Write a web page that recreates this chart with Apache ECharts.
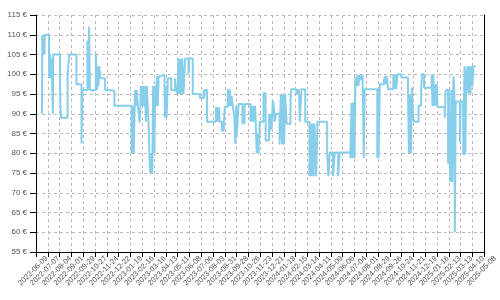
<!DOCTYPE html>
<html><head><meta charset="utf-8">
<script src="https://cdn.jsdelivr.net/npm/echarts@6/dist/echarts.min.js"></script>
<style>html,body{margin:0;padding:0;background:#fff}#c{width:500px;height:300px}</style>
</head><body><div id="c"></div><script>
const startDate = '2022-06-09';
const tickStepDays = 28;
const axisEndDay = 1064;
const priceMin = 55, priceMax = 115, priceStep = 5;
const currency = '€';
// [days since startDate, price in €]
const priceHistory = [
[14,90],[15,110],[17,105],[18,110],[20,105],[21,110],[31,99],[33,105],[35,99],[36,104],
[38,99],[40,90],[41,105],[57,97],[59,89],[75,100],[79,105],[96,97.5],[108,82.5],[110,96],
[122,108.5],[123,96],[126,112],[128,96],[142,105.3],[145,96],[146,102],[148,97],[150,102],[153,99],
[164,96],[171,95.8],[186,92],[227,80],[229,92],[230,80],[231,92],[232,80],[235,96],[238,92],
[239,96],[242,92],[246,87.8],[248,92],[249,97],[251,92],[254,97],[256,92],[258,97],[261,88],
[263,97],[267,88],[269,80],[271,75],[274,80],[276,75],[278,97],[281,80],[283,97],[285,92],
[287,99.5],[289,92],[291,99.5],[297,100],[305,97],[306,89],[309,97],[310,89],[313,99],[321,96],
[330,99],[332,96],[336,95],[338,104],[340,95],[342,104],[345,95],[347,104],[350,95],[354,104],
[362,100],[364,104],[372,95],[389,94],[398,96],[399,94],[400,96],[406,88],[427,91.7],[429,88],
[431,91.7],[432,88],[434,91.7],[436,88],[441,85.5],[443,88],[445,85.5],[448,91.7],[455,96.2],[457,92],
[460,96.2],[462,92],[464,94.5],[467,92],[471,89],[473,82.4],[475,92],[476,84],[479,89],[481,92.5],
[490,87.6],[495,92.5],[509,88],[511,92],[513,88],[515,92],[518,88],[520,92],[524,80],[526,85],
[528,80],[531,88],[540,95.2],[545,83.2],[553,90],[555,85.5],[557,90],[559,86],[562,93.4],[565,91],
[566,88],[570,90],[578,82.2],[581,95],[584,82.2],[586,95],[589,82.2],[591,95],[595,87.5],[604,93.3],
[606,96.2],[618,95],[620,96.2],[622,95],[624,96.2],[626,88],[630,96.2],[639,88],[649,74.2],[652,87.5],
[654,74.2],[656,87.5],[659,74.2],[661,87.5],[665,74.2],[668,88],[691,80.2],[694,74.2],[697,80.2],[705,74.2],
[709,80.2],[717,74.2],[721,80.2],[746,78.8],[749,92.7],[751,78.8],[754,93],[756,78.8],[758,99.2],[761,97],
[763,99.8],[765,97],[768,99.8],[772,98.5],[775,100],[778,78.8],[780,96.2],[810,78.8],[812,96.2],[813,78.8],
[816,97.5],[826,98.5],[828,99.5],[829,97.5],[832,99.5],[836,96.2],[848,100],[851,96.2],[853,100],[855,96.2],
[858,100],[867,99.2],[883,94.8],[885,80],[887,94.8],[890,80],[892,96.7],[895,89],[897,88],[908,92.1],
[914,95.8],[916,100],[921,96.6],[939,100],[941,92],[943,100],[945,92],[949,97.5],[950,92],[951,97.5],
[953,91.7],[970,89],[972,95.8],[974,96.2],[978,77.4],[980,96],[982,77.4],[984,72.7],[986,96],[988,72.7],
[991,99.5],[993,95],[994,60],[996,93.1],[1006,82.8],[1008,93.1],[1014,79.6],[1017,102],[1019,79.6],[1021,100],
[1024,102],[1026,95.2],[1028,102],[1031,95],[1033,102],[1036,97],[1038,102],[1043,102]
];

const startMs = Date.parse(startDate + 'T00:00:00Z');
function dayLabel(d){ return new Date(startMs + d*86400000).toISOString().slice(0,10); }
const grayDash = {show:true, lineStyle:{color:'#bbbbbb', type:[3,3], width:1}};
const labelFont = {fontSize:8, color:'#555', fontFamily:'Liberation Sans, Arial, sans-serif'};

const chart = echarts.init(document.getElementById('c'), null, {renderer:'canvas'});
chart.setOption({
  animation:false,
  grid:{left:36, right:15, top:15, bottom:48, containLabel:false},
  xAxis:{
    type:'value', min:0, max:axisEndDay, interval:tickStepDays,
    axisLine:{show:true, onZero:false, lineStyle:{color:'#000', width:1}},
    axisTick:{show:true, length:5, lineStyle:{color:'#000'}},
    axisLabel:Object.assign({}, labelFont, {fontSize:7.5, rotate:45, margin:16, align:'center', verticalAlign:'middle',
      padding:[0,8,0,0], showMinLabel:true, showMaxLabel:true, hideOverlap:false,
      formatter:v=>dayLabel(v)}),
    splitLine:grayDash
  },
  yAxis:[{
    type:'value', min:priceMin, max:priceMax, interval:priceStep,
    axisLine:{show:true, lineStyle:{color:'#000', width:1}},
    axisTick:{show:true, length:6, lineStyle:{color:'#000'}},
    axisLabel:Object.assign({margin:9, formatter:v=>v + ' ' + currency}, labelFont),
    splitLine:grayDash
  },{
    type:'value', position:'right', min:priceMin, max:priceMax, interval:priceStep,
    axisLine:{show:true, lineStyle:{color:'#000', width:1}},
    axisTick:{show:false}, axisLabel:{show:false}, splitLine:{show:false}
  }],
  series:[{
    type:'line', step:'end', showSymbol:false, symbol:'none',
    data:priceHistory,
    lineStyle:{color:'#87CEEB', width:2},
    itemStyle:{color:'#87CEEB'}
  }]
});
</script></body></html>
